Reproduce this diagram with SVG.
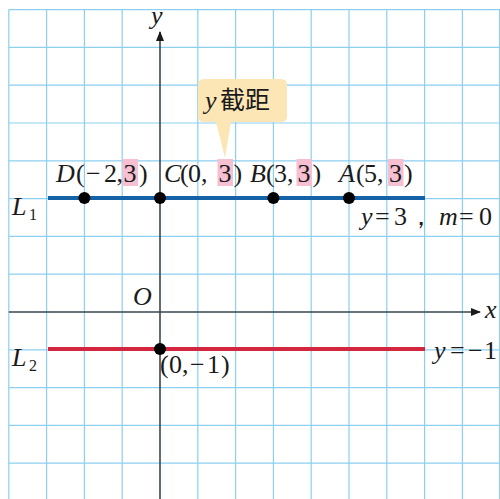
<svg xmlns="http://www.w3.org/2000/svg" width="500" height="499" viewBox="0 0 500 499">
<defs>
<style>
.grid{stroke:#8ccfef;stroke-width:1.2;fill:none}
.axis{stroke:#37474f;stroke-width:1.6;fill:none}
.t{font-family:"Liberation Serif","Times New Roman",serif;font-size:26px;fill:#1a1a1a}
.i{font-style:italic}
.sub{font-size:16px}
.hl{fill:#f6bfd2}
.dot{fill:#000}
.cjk{font-family:"Noto Sans CJK SC","Noto Sans CJK JP",sans-serif;font-size:25px;fill:#1a1a1a}
</style>
<marker id="arr" viewBox="0 0 10 10" refX="9" refY="5" markerWidth="10" markerHeight="10" markerUnits="userSpaceOnUse" orient="auto">
<path d="M0,1 L10,5 L0,9 z" fill="#1a1a1a"/>
</marker>
</defs>
<rect width="500" height="499" fill="#fff"/>
<g id="grid">
<path class="grid" d="M8.8,9.6V499M46.6,9.6V499M84.4,9.6V499M122.2,9.6V499M197.8,9.6V499M235.6,9.6V499M273.4,9.6V499M311.2,9.6V499M349,9.6V499M386.8,9.6V499M424.6,9.6V499M462.4,9.6V499M499.6,9.6V499
M8.8,9.6H500M8.8,47.4H500M8.8,85.2H500M8.8,123H500M8.8,160.8H500M8.8,198.6H500M8.8,236.4H500M8.8,274.2H500M8.8,349.8H500M8.8,387.6H500M8.8,425.4H500M8.8,463.2H500"/>
</g>
<g id="axes">
<line class="axis" x1="8.8" y1="312" x2="480" y2="312" marker-end="url(#arr)"/>
<line class="axis" x1="160" y1="499" x2="160" y2="32" marker-end="url(#arr)"/>
<text class="t i" x="151" y="24">y</text>
<text class="t i" x="485" y="318">x</text>
<text class="t i" x="133" y="305">O</text>
</g>
<g id="connectors">
<line id="L1" x1="48" y1="198" x2="425" y2="198" stroke="#1563a6" stroke-width="4"/>
<line id="L2" x1="48" y1="349" x2="425" y2="349" stroke="#d3263f" stroke-width="4"/>
</g>
<g id="callout">
<path d="M204,79 H281 Q287,79 287,85 V116 Q287,122 281,122 H231 L225,158 L216,122 H204 Q198,122 198,116 V85 Q198,79 204,79 z" fill="#fde6b6"/>
<text class="t i" x="205" y="109">y</text>
<text class="cjk" x="220" y="109">截距</text>
</g>
<g id="label-L1">
<text class="t i" x="12" y="215">L</text>
<text class="t sub" x="29" y="220">1</text>
<text class="t" y="225"><tspan class="i" x="361">y</tspan><tspan x="375">=</tspan><tspan x="394">3</tspan><tspan x="408">，</tspan><tspan class="i" x="439">m</tspan><tspan x="459">=</tspan><tspan x="479">0</tspan></text>
</g>
<g id="label-L2">
<text class="t i" x="12" y="366">L</text>
<text class="t sub" x="29" y="371">2</text>
<text class="t" y="359"><tspan class="i" x="434">y</tspan><tspan x="450">=</tspan><tspan x="468">−</tspan><tspan x="484">1</tspan></text>
</g>
<g id="point-D">
<rect class="hl" x="122.5" y="159" width="15.5" height="27"/>
<circle class="dot" cx="84.4" cy="198" r="6"/>
<text class="t" y="182"><tspan class="i" x="56">D</tspan><tspan x="76">(</tspan><tspan x="86">−</tspan><tspan x="104">2</tspan><tspan x="116.5">,</tspan><tspan x="123.5">3</tspan><tspan x="139">)</tspan></text>
</g>
<g id="point-C">
<rect class="hl" x="217.5" y="159" width="15.5" height="27"/>
<circle class="dot" cx="160" cy="198" r="6"/>
<text class="t" y="182"><tspan class="i" x="164">C</tspan><tspan x="180">(</tspan><tspan x="188">0</tspan><tspan x="201">,</tspan><tspan x="218.5">3</tspan><tspan x="233.5">)</tspan></text>
</g>
<g id="point-B">
<rect class="hl" x="296.5" y="159" width="15.5" height="27"/>
<circle class="dot" cx="273.4" cy="198" r="6"/>
<text class="t" y="182"><tspan class="i" x="250">B</tspan><tspan x="266">(</tspan><tspan x="274">3</tspan><tspan x="287">,</tspan><tspan x="297.5">3</tspan><tspan x="312.5">)</tspan></text>
</g>
<g id="point-A">
<rect class="hl" x="388" y="159" width="15.5" height="27"/>
<circle class="dot" cx="349" cy="198" r="6"/>
<text class="t" y="182"><tspan class="i" x="339">A</tspan><tspan x="356">(</tspan><tspan x="364">5</tspan><tspan x="377">,</tspan><tspan x="389">3</tspan><tspan x="404">)</tspan></text>
</g>
<g id="point-Y">
<circle class="dot" cx="160" cy="349" r="6"/>
<text class="t" y="373"><tspan x="160">(</tspan><tspan x="169">0</tspan><tspan x="182">,</tspan><tspan x="190">−</tspan><tspan x="207">1</tspan><tspan x="221">)</tspan></text>
</g>
</svg>
